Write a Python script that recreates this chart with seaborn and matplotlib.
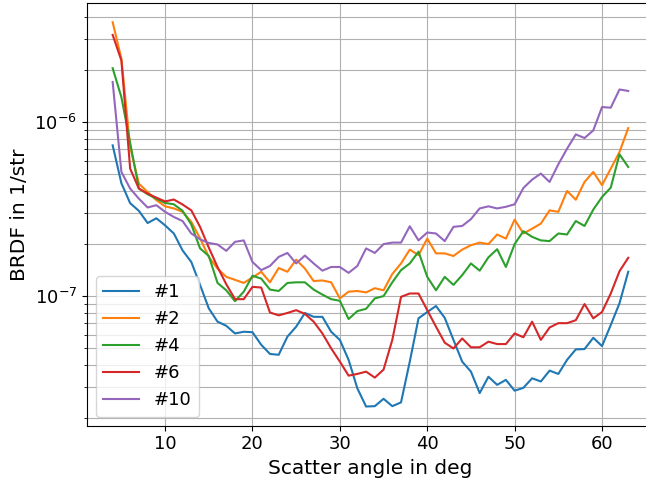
import numpy as np
import pandas as pd
import matplotlib
matplotlib.use("Agg")
import matplotlib.pyplot as plt
import seaborn as sns

# Scatter angles (deg)
angle = list(range(4, 64))

brdf_1 = [7.35e-7, 4.45e-7, 3.42e-7, 3.09e-7, 2.63e-7, 2.80e-7, 2.55e-7, 2.29e-7, 1.83e-7, 1.57e-7,
          1.16e-7, 8.5e-8, 7.13e-8, 6.75e-8, 6.1e-8, 6.24e-8, 6.2e-8, 5.25e-8, 4.65e-8, 4.6e-8,
          5.85e-8, 6.67e-8, 8.0e-8, 7.6e-8, 7.6e-8, 6.24e-8, 5.6e-8, 4.3e-8, 2.95e-8, 2.32e-8,
          2.33e-8, 2.57e-8, 2.33e-8, 2.45e-8, 4.2e-8, 7.45e-8, 8.1e-8, 8.77e-8, 7.5e-8, 5.6e-8,
          4.2e-8, 3.68e-8, 2.77e-8, 3.44e-8, 3.09e-8, 3.3e-8, 2.86e-8, 2.97e-8, 3.37e-8, 3.23e-8,
          3.73e-8, 3.57e-8, 4.3e-8, 4.94e-8, 4.96e-8, 5.76e-8, 5.16e-8, 6.82e-8, 9.1e-8, 1.38e-7]

brdf_2 = [3.75e-6, 2.31e-6, 7.2e-7, 4.43e-7, 3.96e-7, 3.56e-7, 3.28e-7, 3.19e-7, 3.05e-7, 2.67e-7,
          2.15e-7, 1.68e-7, 1.44e-7, 1.29e-7, 1.24e-7, 1.19e-7, 1.28e-7, 1.38e-7, 1.2e-7, 1.45e-7,
          1.38e-7, 1.62e-7, 1.44e-7, 1.22e-7, 1.23e-7, 1.2e-7, 9.7e-8, 1.06e-7, 1.07e-7, 1.05e-7,
          1.11e-7, 1.08e-7, 1.34e-7, 1.54e-7, 1.85e-7, 1.72e-7, 2.14e-7, 1.76e-7, 1.76e-7, 1.7e-7,
          1.85e-7, 1.96e-7, 2.03e-7, 1.99e-7, 2.26e-7, 2.14e-7, 2.75e-7, 2.29e-7, 2.44e-7, 2.61e-7,
          3.11e-7, 3.05e-7, 4.02e-7, 3.58e-7, 4.53e-7, 5.17e-7, 4.34e-7, 5.4e-7, 6.73e-7, 9.24e-7]

brdf_4 = [2.04e-6, 1.39e-6, 7.6e-7, 4.15e-7, 3.85e-7, 3.63e-7, 3.43e-7, 3.37e-7, 3.09e-7, 2.58e-7,
          1.88e-7, 1.7e-7, 1.19e-7, 1.08e-7, 9.35e-8, 1.06e-7, 1.31e-7, 1.26e-7, 1.09e-7, 1.07e-7,
          1.19e-7, 1.2e-7, 1.2e-7, 1.09e-7, 1.02e-7, 9.6e-8, 9.4e-8, 7.38e-8, 8.2e-8, 8.45e-8,
          9.7e-8, 1.0e-7, 1.2e-7, 1.41e-7, 1.54e-7, 1.8e-7, 1.29e-7, 1.08e-7, 1.29e-7, 1.16e-7,
          1.32e-7, 1.54e-7, 1.40e-7, 1.67e-7, 1.86e-7, 1.47e-7, 1.99e-7, 2.36e-7, 2.19e-7, 2.09e-7,
          2.07e-7, 2.29e-7, 2.26e-7, 2.7e-7, 2.53e-7, 3.14e-7, 3.71e-7, 4.2e-7, 6.53e-7, 5.52e-7]

brdf_6 = [3.17e-6, 2.26e-6, 5.4e-7, 4.15e-7, 3.88e-7, 3.68e-7, 3.5e-7, 3.59e-7, 3.36e-7, 3.11e-7,
          2.5e-7, 1.9e-7, 1.47e-7, 1.17e-7, 9.6e-8, 9.6e-8, 1.13e-7, 1.12e-7, 8.05e-8, 7.75e-8,
          8.0e-8, 8.3e-8, 7.9e-8, 7.13e-8, 6.1e-8, 5.01e-8, 4.2e-8, 3.49e-8, 3.57e-8, 3.68e-8,
          3.4e-8, 3.78e-8, 5.6e-8, 9.9e-8, 1.035e-7, 1.035e-7, 8.3e-8, 6.67e-8, 5.4e-8, 5.0e-8,
          5.71e-8, 5.08e-8, 5.08e-8, 5.47e-8, 5.3e-8, 5.3e-8, 6.1e-8, 5.8e-8, 7.13e-8, 5.6e-8,
          6.6e-8, 6.99e-8, 6.99e-8, 7.27e-8, 9.0e-8, 7.45e-8, 8.1e-8, 1.035e-7, 1.39e-7, 1.66e-7]

brdf_10 = [1.7e-6, 5.17e-7, 4.15e-7, 3.63e-7, 3.23e-7, 3.33e-7, 3.05e-7, 2.85e-7, 2.7e-7, 2.29e-7,
           2.12e-7, 2.02e-7, 1.98e-7, 1.82e-7, 2.05e-7, 2.09e-7, 1.57e-7, 1.41e-7, 1.49e-7, 1.68e-7,
           1.77e-7, 1.54e-7, 1.71e-7, 1.54e-7, 1.40e-7, 1.47e-7, 1.47e-7, 1.36e-7, 1.49e-7, 1.88e-7,
           1.77e-7, 1.99e-7, 2.03e-7, 2.03e-7, 2.52e-7, 2.09e-7, 2.32e-7, 2.29e-7, 2.07e-7, 2.5e-7,
           2.53e-7, 2.77e-7, 3.19e-7, 3.28e-7, 3.19e-7, 3.26e-7, 3.37e-7, 4.18e-7, 4.67e-7, 5.06e-7,
           4.53e-7, 5.72e-7, 7.03e-7, 8.5e-7, 8.1e-7, 8.96e-7, 1.22e-6, 1.21e-6, 1.54e-6, 1.51e-6]

labels = ["#1", "#2", "#4", "#6", "#10"]
series = [brdf_1, brdf_2, brdf_4, brdf_6, brdf_10]

df = pd.concat(
    [pd.DataFrame({"angle": angle, "brdf": vals, "sample": lab}) for lab, vals in zip(labels, series)],
    ignore_index=True,
)

fig = plt.figure(figsize=(6.46, 4.83), dpi=100)
ax = fig.add_axes([0.1345, 0.1186, 0.8779, 0.8752])

palette = sns.color_palette("tab10", 5)
for lab, col in zip(labels, palette):
    sub = df[df["sample"] == lab]
    sns.lineplot(data=sub, x="angle", y="brdf", color=col, label=lab, ax=ax, linewidth=1.5)

ax.set_yscale("log")
ax.grid(True, which="both")
ax.set_xlabel("Scatter angle in deg", fontsize=14.5)
ax.set_ylabel("BRDF in 1/str", fontsize=14.5)
ax.tick_params(axis="both", labelsize=13)
ax.legend(loc="lower left", fontsize=13)

fig.savefig("out.png", dpi=100)
